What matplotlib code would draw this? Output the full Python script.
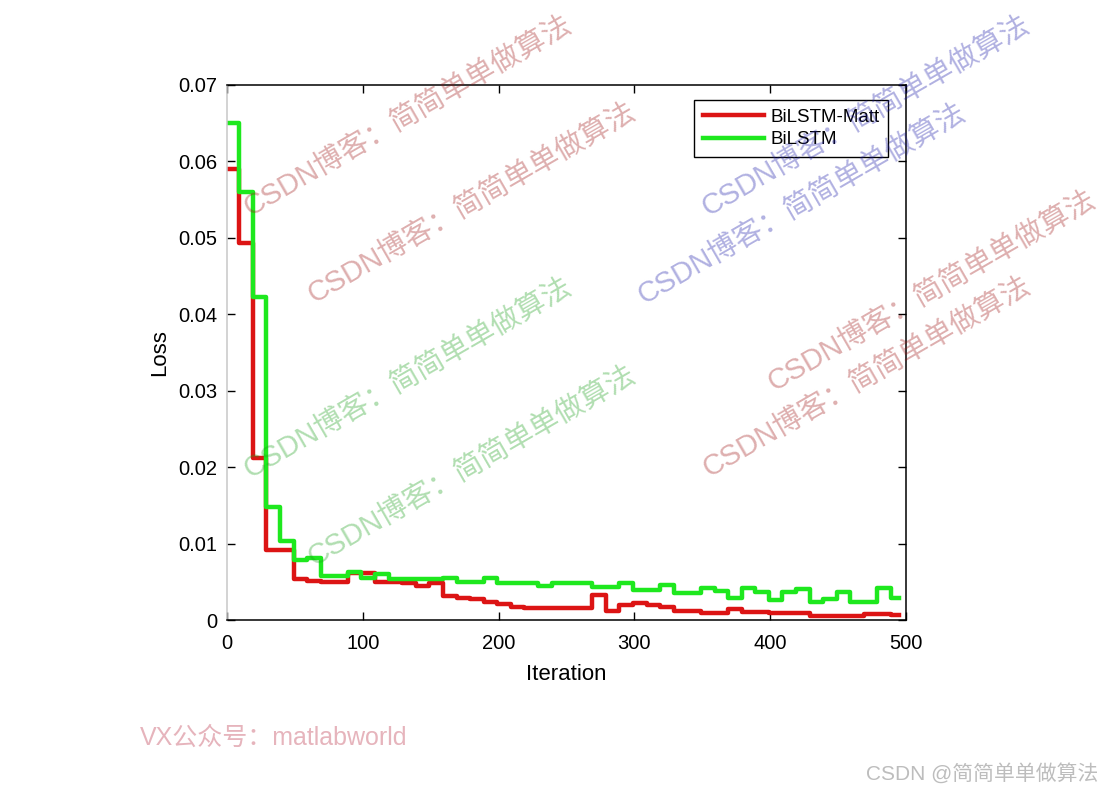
import numpy as np
import matplotlib
matplotlib.use('Agg')
import matplotlib.pyplot as plt

plt.rcParams['font.family'] = ['Liberation Sans', 'Noto Sans CJK SC', 'DejaVu Sans']

# iteration at which each logged loss value starts (one value per ~10 iterations)
seg_start = [0] + list(range(9, 490, 10))
last_iter = 495

loss_matt = [0.0590, 0.0493, 0.0212, 0.0092, 0.0091, 0.0053, 0.0051, 0.0050, 0.0050, 0.0062,
             0.0061, 0.0050, 0.0050, 0.0049, 0.0044, 0.0048, 0.0031, 0.0029, 0.0027, 0.0024,
             0.0021, 0.0017, 0.0016, 0.0016, 0.0016, 0.0016, 0.0016, 0.0033, 0.0012, 0.0020,
             0.0022, 0.0020, 0.0017, 0.0012, 0.0012, 0.0009, 0.0009, 0.0014, 0.0011, 0.0011,
             0.0009, 0.0009, 0.0009, 0.0005, 0.0005, 0.0005, 0.0005, 0.0008, 0.0008, 0.0006]

loss_bilstm = [0.0650, 0.0560, 0.0423, 0.0148, 0.0103, 0.0078, 0.0081, 0.0058, 0.0058, 0.0063,
               0.0055, 0.0060, 0.0053, 0.0053, 0.0053, 0.0053, 0.0055, 0.0050, 0.0050, 0.0055,
               0.0049, 0.0049, 0.0049, 0.0045, 0.0048, 0.0048, 0.0048, 0.0043, 0.0043, 0.0049,
               0.0039, 0.0039, 0.0046, 0.0035, 0.0035, 0.0042, 0.0038, 0.0029, 0.0042, 0.0037,
               0.0026, 0.0037, 0.0040, 0.0024, 0.0027, 0.0036, 0.0024, 0.0024, 0.0042, 0.0029]

series_names = ['BiLSTM-Matt', 'BiLSTM']
xticks = [0, 100, 200, 300, 400, 500]
yticks = [0, 0.01, 0.02, 0.03, 0.04, 0.05, 0.06, 0.07]
ytick_labels = ['0', '0.01', '0.02', '0.03', '0.04', '0.05', '0.06', '0.07']

wm_text = 'CSDN博客：简简单单做算法'
# watermark centres in pixels and their colours
wm_pos = [(408, 117), (472, 204), (408, 379), (472, 467),
          (866, 117), (802, 205), (932, 292), (867, 378)]
wm_col = ['r', 'r', 'g', 'g', 'b', 'b', 'r', 'r']

W, H = 1102, 793
fig = plt.figure(figsize=(W / 100, H / 100), dpi=100)
ax = fig.add_axes([227 / W, 1 - 620 / H, (906 - 227) / W, (620 - 85) / H])
ax.patch.set_alpha(0)

x = seg_start + [last_iter]
ax.plot(x, loss_matt + [loss_matt[-1]], drawstyle='steps-post', color='#dc1414', lw=3.2, label=series_names[0])
ax.plot(x, loss_bilstm + [loss_bilstm[-1]], drawstyle='steps-post', color='#1ee81e', lw=3.2, label=series_names[1])

ax.set_xlim(0, 500)
ax.set_ylim(0, 0.07)
ax.set_xticks(xticks)
ax.set_yticks(yticks)
ax.set_yticklabels(ytick_labels)
ax.tick_params(direction='in', length=6, width=1, top=True, right=True, labelsize=14.5, colors='black')
ax.tick_params(axis='x', pad=10)
ax.tick_params(axis='y', pad=7)
for s in ax.spines.values():
    s.set_linewidth(1.1)
ax.spines['left'].set_color('#c8c8c8')

ax.set_xlabel('Iteration', fontsize=16, labelpad=8)
ax.set_ylabel('Loss', fontsize=16, labelpad=6)

leg = ax.legend(loc='upper right', bbox_to_anchor=(0.973, 0.972), borderaxespad=0, fontsize=13.5,
                handlelength=3.3, handletextpad=0.3, labelspacing=0.3, borderpad=0.45,
                fancybox=False, framealpha=1, edgecolor='black')
leg.get_frame().set_linewidth(1.0)

base = {'r': (0.62, 0.08, 0.08, 0.34), 'g': (0.1, 0.62, 0.1, 0.34), 'b': (0.1, 0.1, 0.66, 0.34)}
for (px, py), c in zip(wm_pos, wm_col):
    fig.text(px / W, 1 - py / H, wm_text, color=base[c], fontsize=21, rotation=30, fontweight='light',
             rotation_mode='anchor', ha='center', va='center', zorder=10)

fig.text(140 / W, 1 - 738 / H, 'VX公众号：matlabworld', color='#e6b4bc', fontsize=18, ha='left', va='center')
fig.text(1098 / W, 1 - 773 / H, 'CSDN @简简单单做算法', color='#bdbdbd', fontsize=15, ha='right', va='center')

fig.savefig('out.png', dpi=100)
